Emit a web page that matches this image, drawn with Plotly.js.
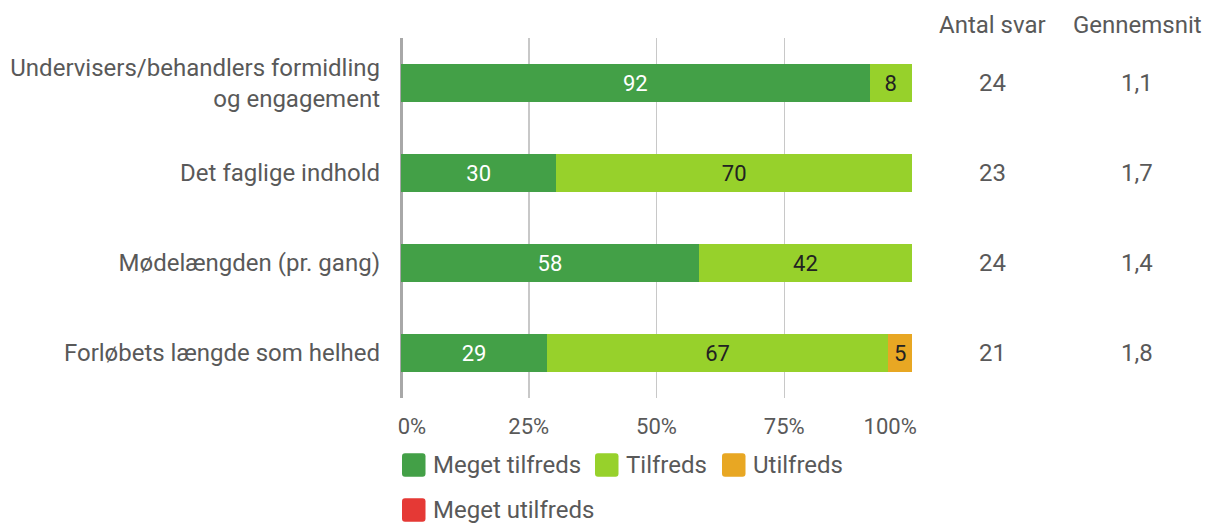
<!DOCTYPE html>
<html>
<head>
<meta charset="utf-8">
<script src="https://cdn.plot.ly/plotly-3.0.1.min.js"></script>
<style>html,body{margin:0;padding:0;background:#fff;}#chart{width:1206px;height:524px;}</style>
</head>
<body>
<div id="chart"></div>
<script>
const categories = [
  "Undervisers/behandlers formidling<br>og engagement",
  "Det faglige indhold",
  "Mødelængden (pr. gang)",
  "Forløbets længde som helhed"
];
const seriesNames = ["Meget tilfreds", "Tilfreds", "Utilfreds", "Meget utilfreds"];
const megetTilfreds = [91.7, 30.4, 58.3, 28.6];
const tilfreds = [8.3, 69.6, 41.7, 66.7];
const utilfreds = [null, null, null, 4.8];
const megetUtilfreds = [null, null, null, null];
const antalSvar = [24, 23, 24, 21];
const gennemsnit = ["1,1", "1,7", "1,4", "1,8"];
const xTickVals = [0, 25, 50, 75, 100];
const NB = "\u00A0";
// first/last labels kept inside the plot width (as in the original)
const xTickText = [NB.repeat(4) + "0%", "25%", "50%", "75%", "100%" + NB.repeat(8)];

const colors = ["#43A047", "#97D12B", "#E8A723", "#E53935"];
const textColors = ["#ffffff", "#222222", "#222222", "#ffffff"];
const allSeries = [megetTilfreds, tilfreds, utilfreds, megetUtilfreds];
const FONT = "Roboto, 'Open Sans', sans-serif";
const GREY = "#595959";
const FS = 24;

// plot area geometry (pixels) used to place legend/header in paper coords
const W = 1206, H = 524, ML = 401, MR = 294, MT = 38, MB = 126;
const PW = W - ML - MR, PH = H - MT - MB;
const px = x => (x - ML) / PW;
const py = y => (H - MB - y) / PH;

const traces = allSeries.map((vals, i) => ({
  type: "bar",
  orientation: "h",
  name: seriesNames[i],
  y: categories,
  x: vals,
  text: vals.map(v => (v == null ? "" : String(Math.round(v)))),
  textposition: "inside",
  insidetextanchor: "middle",
  textangle: 0,
  constraintext: "none",
  textfont: {family: FONT, size: 22, color: textColors[i]},
  marker: {color: colors[i], line: {width: 0}},
  hoverinfo: "skip",
  showlegend: false
}));

const annotations = [];
const shapes = [];
const colX = [px(992.5), px(1137)];
const txt = {family: FONT, size: FS, color: GREY};
annotations.push({xref: "paper", yref: "paper", x: colX[0], y: py(25), text: "Antal svar", showarrow: false, xanchor: "center", yanchor: "middle", font: txt});
annotations.push({xref: "paper", yref: "paper", x: colX[1], y: py(25), text: "Gennemsnit", showarrow: false, xanchor: "center", yanchor: "middle", font: txt});
categories.forEach((c, i) => {
  annotations.push({xref: "paper", yref: "y", x: colX[0], y: c, text: String(antalSvar[i]), showarrow: false, xanchor: "center", yanchor: "middle", font: txt});
  annotations.push({xref: "paper", yref: "y", x: colX[1], y: c, text: gennemsnit[i], showarrow: false, xanchor: "center", yanchor: "middle", font: txt});
});

// legend (two rows), drawn as rounded squares + text
const legendPos = [[402, 465], [595, 465], [722, 465], [402, 510]];
seriesNames.forEach((name, i) => {
  const [lx, ly] = legendPos[i];
  const s = 23.5, r = 3;
  const x0 = lx, x1 = lx + s, y0 = ly - s / 2, y1 = ly + s / 2;
  const path = `M${px(x0 + r)},${py(y0)} L${px(x1 - r)},${py(y0)} Q${px(x1)},${py(y0)} ${px(x1)},${py(y0 + r)} ` +
    `L${px(x1)},${py(y1 - r)} Q${px(x1)},${py(y1)} ${px(x1 - r)},${py(y1)} L${px(x0 + r)},${py(y1)} ` +
    `Q${px(x0)},${py(y1)} ${px(x0)},${py(y1 - r)} L${px(x0)},${py(y0 + r)} Q${px(x0)},${py(y0)} ${px(x0 + r)},${py(y0)} Z`;
  shapes.push({type: "path", xref: "paper", yref: "paper", path: path, fillcolor: colors[i], line: {width: 0}, layer: "above"});
  annotations.push({xref: "paper", yref: "paper", x: px(lx + 29), y: py(ly), text: name, showarrow: false, xanchor: "left", yanchor: "middle", font: txt});
});

const layout = {
  width: W, height: H,
  margin: {l: ML, r: MR, t: MT, b: MB, pad: 0},
  paper_bgcolor: "#fff", plot_bgcolor: "#fff",
  barmode: "stack",
  bargap: 0.58,
  font: {family: FONT, size: FS, color: GREY},
  xaxis: {
    range: [0, 100], tickmode: "array", tickvals: xTickVals, ticktext: xTickText,
    showgrid: true, gridcolor: "#c8c8c8", gridwidth: 1.5,
    zeroline: true, zerolinecolor: "#a8a8a8", zerolinewidth: 3,
    showline: false, ticks: "", ticklabelstandoff: 13,
    tickfont: {family: FONT, size: 22, color: GREY}, fixedrange: true, automargin: false
  },
  yaxis: {
    autorange: "reversed", type: "category",
    showgrid: false, zeroline: false, showline: false,
    ticks: "", ticklabelstandoff: 20,
    tickfont: {family: FONT, size: FS, color: GREY}, fixedrange: true, automargin: false
  },
  showlegend: false,
  shapes: shapes,
  annotations: annotations
};

Plotly.newPlot("chart", traces, layout, {displayModeBar: false, staticPlot: true});
</script>
</body>
</html>
